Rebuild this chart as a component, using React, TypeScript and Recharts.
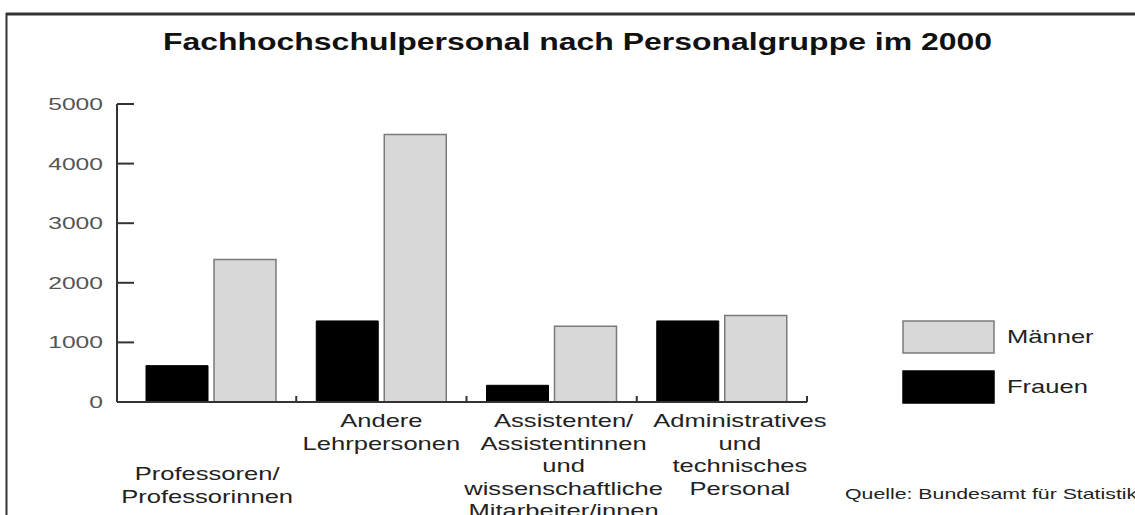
import { BarChart, Bar, XAxis, YAxis, Legend } from "recharts"

const categories = [
  ["Professoren/", "Professorinnen"],
  ["Andere", "Lehrpersonen"],
  ["Assistenten/", "Assistentinnen", "und", "wissenschaftliche", "Mitarbeiter/innen"],
  ["Administratives", "und", "technisches", "Personal"],
]
const frauen = [610, 1360, 280, 1360]
const maenner = [2390, 4490, 1270, 1450]
const yTicks = [0, 1000, 2000, 3000, 4000, 5000]

const title = "Fachhochschulpersonal nach Personalgruppe im 2000"
const source = "Quelle: Bundesamt für Statistik"

const data = categories.map((lines, i) => ({
  name: lines.join(" "),
  lines,
  Frauen: frauen[i],
  Männer: maenner[i],
}))

const FONT = "'Liberation Sans', Arial, sans-serif"
const STRETCH = 1.42
const AXIS = "#333"
// small shifts of the category labels, as in the original
const labelShift = [{ dx: -4, dy: 53 }, { dx: 0, dy: 0 }, { dx: 12, dy: 0 }, { dx: 18, dy: 0 }]

function YTick(props: any) {
  const { x, y, payload } = props
  return (
    <g>
      <line x1={x} x2={x + 17} y1={y} y2={y} stroke={AXIS} strokeWidth={2} />
      <text
        transform={`translate(${x - 14},${y + 6}) scale(1.45,1)`}
        textAnchor="end"
        fontFamily={FONT}
        fontSize={17}
        fill="#555"
      >
        {payload.value}
      </text>
    </g>
  )
}

function XTick(props: any) {
  const { x, y, payload, index } = props
  const half = payload.offset ?? 85
  const lines: string[] = data[index]?.lines ?? [String(payload.value)]
  const shift = labelShift[index] ?? { dx: 0, dy: 0 }
  return (
    <g>
      <line x1={x + half} x2={x + half} y1={y} y2={y - 6} stroke={AXIS} strokeWidth={2} />
      {lines.map((line, i) => (
        <text
          key={i}
          transform={`translate(${x + shift.dx},${y + 25 + shift.dy + i * 22.5}) scale(${STRETCH},1)`}
          textAnchor="middle"
          fontFamily={FONT}
          fontSize={18}
          fill="#222"
        >
          {line}
        </text>
      ))}
    </g>
  )
}

function LegendBox() {
  const items = [
    { label: "Männer", fill: "#d8d8d8", stroke: "#7a7a7a" },
    { label: "Frauen", fill: "#000", stroke: "#000" },
  ]
  return (
    <svg width={220} height={90}>
      {items.map((it, i) => (
        <g key={it.label}>
          <rect x={1} y={1 + i * 50} width={91} height={32} fill={it.fill} stroke={it.stroke} strokeWidth={1.5} />
          <text
            transform={`translate(105,${23 + i * 50}) scale(${STRETCH},1)`}
            fontFamily={FONT}
            fontSize={18}
            fill="#222"
          >
            {it.label}
          </text>
        </g>
      ))}
    </svg>
  )
}

export default function App() {
  return (
    <div style={{ position: "absolute", left: 0, top: 0, width: 1135, height: 515, background: "#fff", overflow: "hidden" }}>
      <svg width={1135} height={515} style={{ position: "absolute", left: 0, top: 0 }}>
        <line x1={6} x2={1135} y1={14} y2={14} stroke="#333" strokeWidth={3} />
        <line x1={6.5} x2={6.5} y1={13} y2={515} stroke="#333" strokeWidth={2} />
        <text
          x={163}
          y={50}
          textLength={829}
          lengthAdjust="spacingAndGlyphs"
          fontFamily={FONT}
          fontWeight="bold"
          fontSize={23}
          fill="#111"
        >
          {title}
        </text>
        <text
          transform={`translate(845,499) scale(${STRETCH},1)`}
          fontFamily={FONT}
          fontSize={15}
          fill="#222"
        >
          {source}
        </text>
      </svg>
      <div style={{ position: "absolute", left: 0, top: 0 }}>
        <BarChart
          width={1135}
          height={515}
          data={data}
          margin={{ top: 104, right: 328, bottom: 3, left: 57 }}
          barCategoryGap={20}
          barGap={6}
        >
          <XAxis
            dataKey="name"
            height={110}
            padding={{ left: 9, right: 0 }}
            axisLine={{ stroke: AXIS, strokeWidth: 2 }}
            tickLine={false}
            tickSize={0}
            tickMargin={0}
            interval={0}
            tick={<XTick />}
          />
          <YAxis
            width={60}
            domain={[0, 5000]}
            ticks={yTicks}
            axisLine={{ stroke: AXIS, strokeWidth: 2 }}
            tickLine={false}
            tickSize={0}
            tickMargin={0}
            tick={<YTick />}
          />
          <Legend
            layout="horizontal"
            align="center"
            verticalAlign="middle"
            wrapperStyle={{ left: 902, top: 320, width: 220, height: 90 }}
            content={() => <LegendBox />}
          />
          <Bar dataKey="Frauen" fill="#000" stroke="#000" strokeWidth={1} isAnimationActive={false} />
          <Bar dataKey="Männer" fill="#d8d8d8" stroke="#7a7a7a" strokeWidth={1.5} isAnimationActive={false} />
        </BarChart>
      </div>
    </div>
  )
}
